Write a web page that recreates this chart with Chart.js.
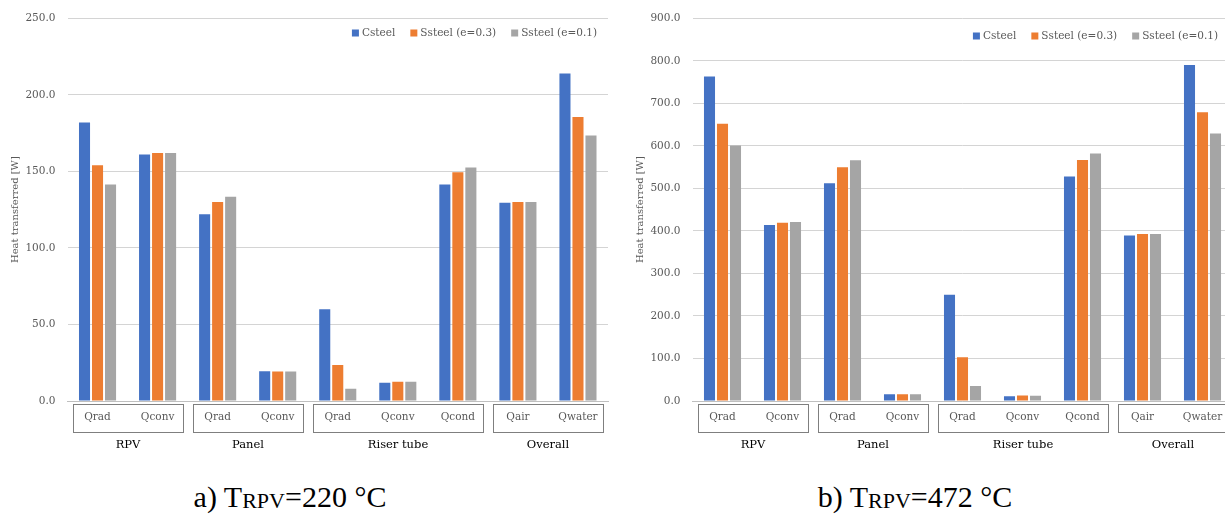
<!DOCTYPE html>
<html>
<head>
<meta charset="utf-8">
<script src="https://cdn.jsdelivr.net/npm/chart.js@4.4.1/dist/chart.umd.min.js"></script>
<style>
  html, body { margin: 0; padding: 0; background: #fff; overflow: hidden; width: 1225px; height: 514px; }
  .wrap { position: absolute; top: 0; }
  .wrap canvas { display: block; }
  .cap { position: absolute; top: 482px; font-family: "Liberation Serif", "Times New Roman", serif; font-size: 30px; line-height: 1; color: #000; white-space: nowrap; transform: translateX(-50%); }
  .cap sub { font-size: 22px; vertical-align: baseline; position: relative; top: 1px; }
</style>
</head>
<body>
<div class="wrap" style="left:0"><canvas id="c220" width="612" height="470"></canvas></div>
<div class="wrap" style="left:612px"><canvas id="c472" width="625" height="470"></canvas></div>
<div class="cap" style="left:290px">a) T<sub>RPV</sub>=220 °C</div>
<div class="cap" style="left:915px">b) T<sub>RPV</sub>=472 °C</div>

<script>
// heat transferred per path, three wall materials
var labels = ['Qrad', 'Qconv', 'Qrad', 'Qconv', 'Qrad', 'Qconv', 'Qcond', 'Qair', 'Qwater'];
var groupNames = ['RPV', 'Panel', 'Riser tube', 'Overall'];
var groupSizes = [2, 2, 3, 2];
var seriesNames = ['Csteel', 'Ssteel (e=0.3)', 'Ssteel (e=0.1)'];
var seriesColors = ['#4472c4', '#ed7d31', '#a5a5a5'];

// T_RPV = 220 °C
var csteel220 = [182, 161, 122, 19.5, 60, 12, 141.5, 129.5, 214];
var ssteel03_220 = [154, 162, 130, 19.2, 23.5, 12.5, 149.5, 130, 185.5];
var ssteel01_220 = [141.5, 162, 133.5, 19.2, 8, 12.5, 152.5, 130, 173.5];

// T_RPV = 472 °C
var csteel472 = [763, 414, 512, 16, 250, 11, 528, 389, 790];
var ssteel03_472 = [652, 419, 550, 16, 103, 13, 567, 393, 679];
var ssteel01_472 = [601, 421, 566, 16, 35, 12.5, 582, 393, 629];

var FONT = '"DejaVu Serif", "Liberation Serif", serif';
var DIM = '#595959';

// boxed second-level category axis (RPV / Panel / ...)
var groupAxis = {
  id: 'groupAxis',
  afterDraw: function(chart) {
    var ctx = chart.ctx, xs = chart.scales.x, area = chart.chartArea;
    var step = xs.getPixelForValue(1) - xs.getPixelForValue(0);
    var idx = 0;
    ctx.save();
    groupNames.forEach(function(name, g) {
      var first = idx, last = idx + groupSizes[g] - 1;
      idx += groupSizes[g];
      var x0 = Math.round(xs.getPixelForValue(first) - step / 2 + 5);
      var x1 = Math.round(xs.getPixelForValue(last) + step / 2 - 5);
      ctx.strokeStyle = '#7f7f7f';
      ctx.lineWidth = 1;
      ctx.strokeRect(x0 + 0.5, Math.round(area.bottom) + 3.5, x1 - x0, 28);
      ctx.fillStyle = '#000';
      ctx.font = '11.5px ' + FONT;
      ctx.textAlign = 'center';
      ctx.textBaseline = 'middle';
      ctx.fillText(name, (x0 + x1) / 2, area.bottom + 44);
    });
    ctx.restore();
  }
};

// legend sitting inside the plot, top right
var innerLegend = {
  id: 'innerLegend',
  afterDraw: function(chart, args, opts) {
    var ctx = chart.ctx;
    var box = 7, gap = 3, spacing = 15;
    ctx.save();
    ctx.font = '10.5px ' + FONT;
    var sets = chart.data.datasets;
    var widths = sets.map(function(d) { return ctx.measureText(d.label).width; });
    var total = 0;
    widths.forEach(function(w) { total += box + gap + w; });
    total += spacing * (sets.length - 1);
    var x = opts.right - total, y = opts.y;
    ctx.textBaseline = 'middle';
    ctx.textAlign = 'left';
    sets.forEach(function(d, i) {
      ctx.fillStyle = d.backgroundColor;
      ctx.fillRect(x, y - box / 2, box, box);
      ctx.fillStyle = DIM;
      ctx.fillText(d.label, x + box + gap, y);
      x += box + gap + widths[i] + spacing;
    });
    ctx.restore();
  }
};

function makeChart(id, series, yMax, yStep, axisW, titlePad, padRight, legend) {
  var datasets = series.map(function(vals, i) {
    return {
      label: seriesNames[i],
      data: vals,
      backgroundColor: seriesColors[i],
      borderWidth: 0,
      categoryPercentage: 0.65,
      barPercentage: 0.85
    };
  });

  return new Chart(document.getElementById(id), {
    type: 'bar',
    data: { labels: labels, datasets: datasets },
    plugins: [groupAxis, innerLegend],
    options: {
      responsive: false,
      animation: false,
      devicePixelRatio: 1,
      layout: { padding: { top: 17, right: padRight, left: 0, bottom: 0 } },
      plugins: {
        legend: { display: false },
        tooltip: { enabled: false },
        innerLegend: legend
      },
      scales: {
        x: {
          grid: { display: false, drawTicks: false },
          border: { display: true, color: '#bfbfbf', width: 1 },
          ticks: { color: DIM, font: { family: FONT, size: 10.5 }, padding: 10, autoSkip: false, maxRotation: 0 },
          afterFit: function(s) { s.height = 69; }
        },
        y: {
          min: 0,
          max: yMax,
          grid: { color: '#d4d4d4', lineWidth: 1, drawTicks: false },
          border: { display: false },
          ticks: {
            stepSize: yStep,
            color: DIM,
            padding: 12,
            font: { family: FONT, size: 10.5 },
            callback: function(v) { return v.toFixed(1); }
          },
          title: {
            display: true,
            text: 'Heat transferred [W]',
            color: DIM,
            font: { family: FONT, size: 10 },
            padding: { top: titlePad, bottom: 0 }
          },
          afterFit: function(s) { s.width = axisW; }
        }
      }
    }
  });
}

makeChart('c220', [csteel220, ssteel03_220, ssteel01_220], 250, 50, 67.5, 9, 4, { right: 597, y: 33 });
makeChart('c472', [csteel472, ssteel03_472, ssteel01_472], 900, 100, 80.5, 22, 4.5, { right: 606, y: 36 });
</script>
</body>
</html>
